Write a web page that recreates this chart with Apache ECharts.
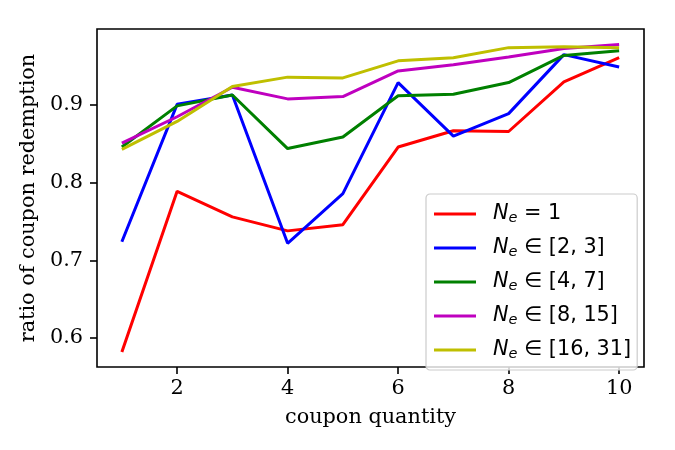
<!DOCTYPE html>
<html>
<head>
<meta charset="utf-8">
<script src="https://cdn.jsdelivr.net/npm/echarts@6/dist/echarts.min.js"></script>
<style>
  html, body { margin: 0; padding: 0; background: #fff; }
  #line_chart { width: 675px; height: 450px; }
</style>
</head>
<body>
<div id="line_chart"></div>
<script>
// 横轴：券数量
const quantities = [1, 2, 3, 4, 5, 6, 7, 8, 9, 10];
const xTicks = [2, 4, 6, 8, 10];
const yTicks = [0.6, 0.7, 0.8, 0.9];

// 各组核销率
const ne1 = [0.582, 0.789, 0.756, 0.738, 0.746, 0.846, 0.867, 0.866, 0.930, 0.961];
const ne2to3 = [0.724, 0.901, 0.913, 0.722, 0.786, 0.929, 0.860, 0.889, 0.965, 0.949];
const ne4to7 = [0.846, 0.899, 0.913, 0.844, 0.859, 0.912, 0.914, 0.929, 0.964, 0.970];
const ne8to15 = [0.851, 0.885, 0.923, 0.908, 0.911, 0.944, 0.952, 0.962, 0.973, 0.978];
const ne16to31 = [0.843, 0.879, 0.924, 0.936, 0.935, 0.957, 0.961, 0.974, 0.975, 0.974];

const legendSuffix = [' = 1', ' ∈ [2, 3]', ' ∈ [4, 7]', ' ∈ [8, 15]', ' ∈ [16, 31]'];
const seriesValues = [ne1, ne2to3, ne4to7, ne8to15, ne16to31];
const colors = ['#ff0000', '#0000ff', '#008000', '#bf00bf', '#bfbf00'];

const serif = 'DejaVu Serif';
const fs = 20.8;

const qCharts = echarts.init(document.getElementById('line_chart'));

let option = {
  animation: false,
  grid: {
    left: 97,
    right: 31,
    top: 29,
    bottom: 83,
    show: true,
    borderColor: '#000',
    borderWidth: 1.6,
    backgroundColor: 'transparent'
  },
  legend: {
    orient: 'vertical',
    left: 426,
    top: 194,
    padding: [8, 6, 8, 8],
    icon: 'rect',
    itemWidth: 42,
    itemHeight: 3,
    itemGap: 10,
    backgroundColor: 'rgba(255,255,255,0.8)',
    borderColor: '#cccccc',
    borderWidth: 1.2,
    borderRadius: 4,
    data: [],
    formatter: function (name) {
      return '{n|N}{s|e}{t|' + name.slice(2) + '}';
    },
    textStyle: {
      fontFamily: 'DejaVu Sans',
      fontSize: fs,
      color: '#000',
      rich: {
        n: { fontFamily: 'DejaVu Sans', fontStyle: 'italic', fontSize: fs, padding: [0, 0, 0, 12], lineHeight: 21 },
        s: { fontFamily: 'DejaVu Sans', fontStyle: 'italic', fontSize: 14.5, padding: [9, 0, 0, 0], lineHeight: 21 },
        t: { fontFamily: 'DejaVu Sans', fontSize: fs, lineHeight: 21 }
      }
    }
  },
  xAxis: {
    type: 'value',
    min: 0.55,
    max: 10.45,
    name: 'coupon quantity',
    nameLocation: 'middle',
    nameGap: 40,
    nameTextStyle: { fontFamily: serif, fontSize: fs, color: '#000' },
    axisLine: { show: false },
    axisTick: {
      show: true,
      customValues: xTicks,
      length: 7,
      lineStyle: { color: '#000', width: 1.6 }
    },
    axisLabel: {
      customValues: xTicks,
      margin: 11,
      fontFamily: serif,
      fontSize: fs,
      color: '#000'
    },
    splitLine: { show: false }
  },
  yAxis: {
    type: 'value',
    min: 0.5627,
    max: 0.998,
    name: 'ratio of coupon redemption',
    nameLocation: 'middle',
    nameGap: 53,
    nameTextStyle: { fontFamily: serif, fontSize: fs, color: '#000' },
    axisLine: { show: false },
    axisTick: {
      show: true,
      customValues: yTicks,
      length: 7,
      lineStyle: { color: '#000', width: 1.6 }
    },
    axisLabel: {
      customValues: yTicks,
      margin: 14,
      fontFamily: serif,
      fontSize: fs,
      color: '#000',
      formatter: function (v) { return v.toFixed(1); }
    },
    splitLine: { show: false }
  },
  series: []
};

seriesValues.forEach((vals, i) => {
  let name = 'Ne' + legendSuffix[i];
  option.legend.data.push(name);
  option.series.push({
    name: name,
    type: 'line',
    symbol: 'none',
    color: colors[i],
    lineStyle: { color: colors[i], width: 3 },
    data: quantities.map((q, k) => [q, vals[k]])
  });
});

qCharts.setOption(option);
</script>
</body>
</html>
